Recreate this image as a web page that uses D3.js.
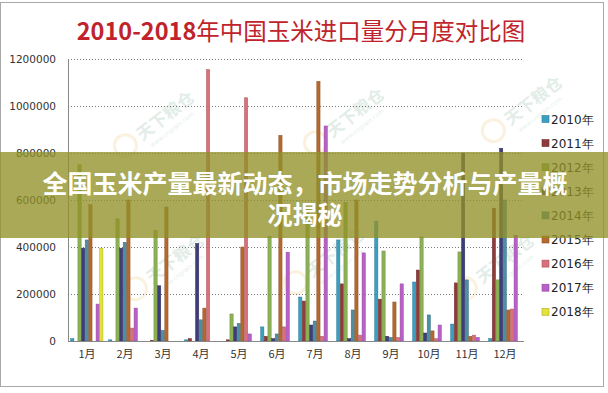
<!DOCTYPE html>
<html lang="zh">
<head>
<meta charset="utf-8">
<title>2010-2018年中国玉米进口量分月度对比图</title>
<script src="https://cdn.jsdelivr.net/npm/d3@7"></script>
<style>
  body { margin: 0; background: #fff; }
  svg { display: block; }
</style>
</head>
<body>
<script>
var w = 608;
var h = 393;

//// data
var months = ["1月","2月","3月","4月","5月","6月","7月","8月","9月","10月","11月","12月"];
var years = ["2010年","2011年","2012年","2013年","2014年","2015年","2016年","2017年","2018年"];
var yTicks = [0, 200000, 400000, 600000, 800000, 1000000, 1200000];

var v2010 = [10000, 5000, 0, 5000, 0, 60000, 187000, 430000, 510000, 251000, 72000, 10000];
var v2011 = [0, 0, 3000, 10000, 5000, 20000, 170000, 243000, 178000, 302000, 247000, 565000];
var v2012 = [750000, 520000, 470000, 0, 115000, 445000, 560000, 590000, 383000, 443000, 379000, 260000];
var v2013 = [395000, 395000, 235000, 415000, 60000, 10000, 68000, 10000, 20000, 34000, 800000, 820000];
var v2014 = [430000, 420000, 45000, 90000, 75000, 30000, 85000, 132000, 15000, 111000, 260000, 600000];
var v2015 = [580000, 600000, 570000, 140000, 400000, 875000, 1105000, 600000, 166000, 43000, 20000, 132000];
var v2016 = [0, 55000, 0, 1155000, 1035000, 60000, 20000, 25000, 15000, 10000, 25000, 136000];
var v2017 = [157000, 140000, 0, 0, 30000, 378000, 915000, 375000, 243000, 68000, 15000, 450000];
var v2018 = [395000, 0, 0, 0, 0, 0, 0, 0, 0, 0, 0, 0];

var series = [v2010, v2011, v2012, v2013, v2014, v2015, v2016, v2017, v2018];
var colors = ["#3a9fc0", "#8e3b3b", "#8db255", "#3e3d7a", "#4a8fa6",
              "#b5692e", "#d9707a", "#b95fc8", "#e2e23a"];

var svg = d3.select("body").append("svg")
  .attr("width", w)
  .attr("height", h);

svg.append("rect")
  .attr("x", 0.5).attr("y", 2.5)
  .attr("width", 603).attr("height", 384)
  .attr("fill", "#fff")
  .attr("stroke", "#a8a8a8");

//// title
var title = svg.append("text")
  .attr("x", 301).attr("y", 40)
  .attr("text-anchor", "middle")
  .attr("font-family", "'Noto Sans CJK SC', sans-serif")
  .attr("font-size", "23.5px")
  .attr("fill", "#c0232b");
title.append("tspan").attr("font-weight", "bold").text("2010-2018");
title.append("tspan").text("年中国玉米进口量分月度对比图");

//// scales
var x0 = d3.scaleBand().domain(months).range([68, 524])
  .paddingInner(0.14).paddingOuter(0.07);
var x1 = d3.scaleBand().domain(years).range([0, x0.bandwidth()]);
var y = d3.scaleLinear().domain([0, 1200000]).range([341, 59]);

//// watermarks
var marks = [[160, 125], [350, 122], [528, 110], [170, 268], [330, 262], [500, 268]];
marks.forEach(function(p) {
  var g = svg.append("g")
    .attr("transform", "translate(" + p[0] + "," + p[1] + ") rotate(-38)")
    .attr("opacity", 0.17);
  g.append("circle").attr("cx", -40).attr("cy", -5).attr("r", 11)
    .attr("fill", "none").attr("stroke", "#e8b04a").attr("stroke-width", 3);
  g.append("text").attr("x", -24).attr("y", 2)
    .attr("font-family", "'Noto Sans CJK SC', sans-serif")
    .attr("font-size", "17px").attr("font-weight", "bold")
    .attr("fill", "#5a9a7a").text("天下粮仓");
  g.append("text").attr("x", -20).attr("y", 13)
    .attr("font-family", "'DejaVu Sans', sans-serif")
    .attr("font-size", "6px").attr("fill", "#5a9a7a").text("www.cngrain.com");
});

//// grid + y labels
svg.selectAll("line.grid")
  .data(yTicks.slice(1))
  .enter().append("line")
  .attr("class", "grid")
  .attr("x1", 68).attr("x2", 524)
  .attr("y1", function(d) { return Math.round(y(d)) + 0.5; })
  .attr("y2", function(d) { return Math.round(y(d)) + 0.5; })
  .attr("stroke", "#777")
  .attr("stroke-dasharray", "1,2");

var yAxis = svg.append("g")
  .attr("transform", "translate(56,0)")
  .call(d3.axisLeft(y).tickValues(yTicks).tickSize(0).tickPadding(0).tickFormat(d3.format("d")));
yAxis.select(".domain").remove();
yAxis.selectAll("text")
  .attr("font-family", "'DejaVu Sans', sans-serif")
  .attr("font-size", "10.5px")
  .attr("fill", "#333");

svg.append("line")
  .attr("x1", 68.5).attr("x2", 68.5).attr("y1", 59).attr("y2", 341)
  .attr("stroke", "#888");

//// bars
var groups = svg.selectAll("g.month")
  .data(months)
  .enter().append("g")
  .attr("class", "month")
  .attr("transform", function(d) { return "translate(" + x0(d) + ",0)"; });

groups.selectAll("rect")
  .data(function(d, i) {
    return series.map(function(s, j) { return { year: years[j], value: s[i], k: j }; });
  })
  .enter().append("rect")
  .attr("x", function(d) { return x1(d.year); })
  .attr("y", function(d) { return y(d.value); })
  .attr("width", x1.bandwidth() - 0.4)
  .attr("height", function(d) { return y(0) - y(d.value); })
  .attr("fill", function(d) { return colors[d.k]; })
  .attr("stroke", function(d) { return d3.color(colors[d.k]).darker(0.7); })
  .attr("stroke-width", 0.5);

//// x axis
svg.append("line")
  .attr("x1", 68).attr("x2", 524).attr("y1", 341.5).attr("y2", 341.5)
  .attr("stroke", "#888");

var xAxis = svg.append("g")
  .attr("transform", "translate(0,341)")
  .call(d3.axisBottom(x0).tickSize(0).tickPadding(9));
xAxis.select(".domain").remove();
xAxis.selectAll("text")
  .attr("font-family", "'Noto Sans CJK SC', sans-serif")
  .attr("font-size", "11px")
  .attr("fill", "#333");

//// legend
var legend = svg.selectAll("g.legend")
  .data(years)
  .enter().append("g")
  .attr("class", "legend")
  .attr("transform", function(d, i) { return "translate(542," + (119 + i * 24.1) + ")"; });

legend.append("rect")
  .attr("x", 0).attr("y", -3.5)
  .attr("width", 7).attr("height", 7)
  .attr("fill", function(d, i) { return colors[i]; })
  .attr("stroke", function(d, i) { return d3.color(colors[i]).darker(0.7); })
  .attr("stroke-width", 0.6);

legend.append("text")
  .attr("x", 9).attr("y", 4.5)
  .attr("font-family", "'DejaVu Sans', sans-serif")
  .attr("font-size", "12px")
  .attr("fill", "#222")
  .text(function(d) { return d; });

//// overlay banner (covers part of the chart, as in the picture)
svg.append("rect")
  .attr("x", 0).attr("y", 152)
  .attr("width", w).attr("height", 86)
  .attr("fill", "rgb(145,145,40)")
  .attr("opacity", 0.78);

svg.selectAll("text.banner")
  .data(["全国玉米产量最新动态，市场走势分析与产量概", "况揭秘"])
  .enter().append("text")
  .attr("class", "banner")
  .attr("x", 305)
  .attr("y", function(d, i) { return 193 + i * 31; })
  .attr("text-anchor", "middle")
  .attr("font-family", "'Noto Sans CJK SC', sans-serif")
  .attr("font-weight", "bold")
  .attr("font-size", "25px")
  .attr("fill", "#fff")
  .text(function(d) { return d; });
</script>
</body>
</html>
